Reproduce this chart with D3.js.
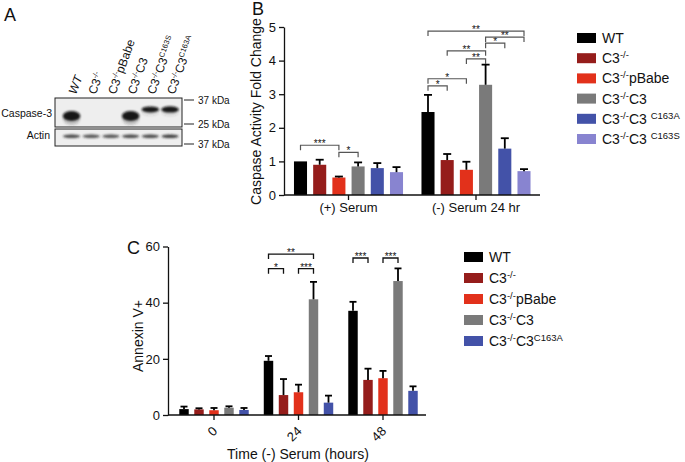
<!DOCTYPE html>
<html><head><meta charset="utf-8">
<script src="https://cdn.jsdelivr.net/npm/d3@7"></script>
<style>
body{margin:0;background:#fff}
svg{display:block}
text{font-family:"Liberation Sans",Arial,Helvetica,sans-serif;fill:#111}
</style>
</head><body>
<svg id="chart" width="685" height="462"></svg>
<script>
// ---------------- DATA ----------------
// Panel A (western blot): lanes, band apparent size (kDa) and relative intensity
const blotLanes = [[["WT",""]],[["C3","-/-"]],[["C3","-/-"],["pBabe",""]],[["C3","-/-"],["C3",""]],[["C3","-/-"],["C3","C163S"]],[["C3","-/-"],["C3","C163A"]]];
const caspaseKDa = [28.5, null, null, 28.5, 31.7, 31.7];
const caspaseIntensity = [1.0, 0, 0, 1.0, 0.4, 0.45];
const actinKDa = [42, 42, 42, 42, 42, 42];
const actinIntensity = [0.8, 0.75, 0.75, 0.8, 0.8, 0.85];
const caspaseMarkers = [37, 25];
const actinMarkers = [37];

// Panel B
const seriesB = [[["WT",""]],[["C3","-/-"]],[["C3","-/-"],["pBabe",""]],[["C3","-/-"],["C3",""]],[["C3","-/-"],["C3 ","C163A"]],[["C3","-/-"],["C3 ","C163S"]]];
const groupsB = ["(+) Serum", "(-) Serum 24 hr"];
const plusSerumMean  = [1.0, 0.90, 0.52, 0.85, 0.80, 0.68];
const plusSerumErr   = [0.0, 0.15, 0.03, 0.12, 0.15, 0.15];
const minusSerumMean = [2.47, 1.04, 0.75, 3.28, 1.38, 0.71];
const minusSerumErr  = [0.51, 0.18, 0.24, 0.60, 0.31, 0.06];
const yTicksB = [0, 1, 2, 3, 4, 5];
// [group, seriesA, seriesB, level, label]
const sigB = [
  [0, 0, 2, 1.48, "***"], [0, 2, 3, 1.27, "*"],
  [1, 0, 1, 3.25, "*"], [1, 0, 2, 3.46, "*"],
  [1, 2, 3, 4.05, "**"], [1, 1, 3, 4.29, "**"],
  [1, 3, 4, 4.52, "*"], [1, 3, 5, 4.70, "**"], [1, 0, 5, 4.88, "**"]
];

// Panel C
const seriesC = [[["WT",""]],[["C3","-/-"]],[["C3","-/-"],["pBabe",""]],[["C3","-/-"],["C3",""]],[["C3","-/-"],["C3","C163A"]]];
const groupsC = ["0", "24", "48"];
const hour0Mean  = [2.1, 2.0, 1.7, 2.6, 1.8];
const hour0Err   = [0.9, 0.4, 0.8, 0.5, 0.7];
const hour24Mean = [19.3, 7.1, 8.1, 41.2, 4.4];
const hour24Err  = [1.7, 5.7, 2.7, 6.2, 2.5];
const hour48Mean = [37.1, 12.5, 13.1, 47.7, 8.6];
const hour48Err  = [3.2, 4.0, 2.6, 4.5, 1.6];
const yTicksC = [0, 20, 40, 60];
const sigC = [
  [1, 0, 1, 52.1, "*"], [1, 2, 3, 52.1, "***"], [1, 0, 3, 57.3, "**"],
  [2, 0, 1, 55.9, "***"], [2, 2, 3, 55.9, "***"]
];

const colors = ["#000000", "#951d1b", "#e2311b", "#7a7a7a", "#4352a8", "#8884d0"];

// ---------------- HELPERS ----------------
const svg = d3.select("#chart");
svg.append("rect").attr("width", 685).attr("height", 462).attr("fill", "#fff");

function rich(textSel, parts, supSize, shift) {
  let pending = 0;
  parts.forEach(([base, sup]) => {
    if (base) { textSel.append("tspan").attr("dy", pending).text(base); pending = 0; }
    if (sup) {
      textSel.append("tspan").attr("font-size", supSize).attr("dy", -shift - pending).text(sup);
      pending = shift;
    }
  });
}

function styleAxis(g) {
  g.selectAll("path,line").attr("stroke", "#111").attr("stroke-width", 1.3);
  g.selectAll("text").attr("font-size", 13).attr("fill", "#111")
    .style("font-family", '"Liberation Sans",Arial,sans-serif');
}

// ---------------- PANEL A ----------------
const A = svg.append("g");
A.append("text").attr("x", 4).attr("y", 21).attr("font-size", 18).text("A");
const defs = svg.append("defs");
defs.append("filter").attr("id", "blur").attr("x", "-50%").attr("y", "-100%").attr("width", "200%").attr("height", "300%")
  .append("feGaussianBlur").attr("stdDeviation", 1.1);

const laneX = d3.scaleBand().domain(d3.range(blotLanes.length)).range([61.7, 179.9]);
const kda = d3.scaleLog().domain([37, 25]).range([100, 124]);
const actinOffset = 44;
const boxL = 55, boxR = 182;

A.append("rect").attr("x", boxL).attr("y", 98).attr("width", boxR - boxL).attr("height", 29)
  .attr("fill", "#eeeeee").attr("stroke", "#222").attr("stroke-width", 1);
A.append("rect").attr("x", boxL).attr("y", 129).attr("width", boxR - boxL).attr("height", 17)
  .attr("fill", "#eeeeee").attr("stroke", "#222").attr("stroke-width", 1);

const bandG = A.append("g").attr("filter", "url(#blur)");
caspaseKDa.forEach((m, i) => {
  if (!m || !caspaseIntensity[i]) return;
  const cx = laneX(i) + laneX.bandwidth() / 2, cy = kda(m), I = caspaseIntensity[i];
  bandG.append("ellipse").attr("cx", cx).attr("cy", cy + 3).attr("rx", 8.5).attr("ry", 2 + 4 * I)
    .attr("fill", "#333").attr("opacity", 0.25 * I);
  bandG.append("ellipse").attr("cx", cx).attr("cy", cy).attr("rx", 8.8).attr("ry", 1.6 + 3.4 * I)
    .attr("fill", "#111").attr("opacity", 0.95);
});
actinKDa.forEach((m, i) => {
  const cx = laneX(i) + laneX.bandwidth() / 2, cy = kda(m) + actinOffset;
  bandG.append("ellipse").attr("cx", cx).attr("cy", cy).attr("rx", 8.5).attr("ry", 1.8)
    .attr("fill", "#222").attr("opacity", actinIntensity[i]);
});

A.append("text").attr("x", 52).attr("y", 117).attr("text-anchor", "end").attr("font-size", 10.5).text("Caspase-3");
A.append("text").attr("x", 50).attr("y", 139).attr("text-anchor", "end").attr("font-size", 10.5).text("Actin");

function marker(y, m) {
  A.append("line").attr("x1", 184).attr("x2", 194).attr("y1", y).attr("y2", y).attr("stroke", "#222").attr("stroke-width", 1);
  A.append("text").attr("x", 198).attr("y", y + 3.6).attr("font-size", 10).text(m + " kDa");
}
caspaseMarkers.forEach(m => marker(kda(m), m));
actinMarkers.forEach(m => marker(kda(m) + actinOffset, m));

blotLanes.forEach((parts, i) => {
  const cx = laneX(i) + laneX.bandwidth() / 2;
  const t = A.append("text").attr("transform", `translate(${cx + 4.5},95) rotate(-70)`)
    .attr("font-size", 12).attr("font-style", i === 0 ? "italic" : "normal");
  rich(t, parts, 7.5, 4.5);
});

// ---------------- PANEL B ----------------
const B = svg.append("g");
B.append("text").attr("x", 252).attr("y", 15).attr("font-size", 18).text("B");
const yB = d3.scaleLinear().domain([0, 5]).range([195, 27]);
const xB = d3.scaleBand().domain(groupsB).range([284.75, 539.75]);
const xBi = d3.scaleBand().domain(d3.range(seriesB.length)).range([6.15, 121.35]).paddingInner(0.32).paddingOuter(0.16);
const dataB = [[plusSerumMean, plusSerumErr], [minusSerumMean, minusSerumErr]];

dataB.forEach(([means, errs], gi) => {
  const g = B.append("g").attr("transform", `translate(${xB(groupsB[gi])},0)`);
  means.forEach((v, si) => {
    const x = xBi(si), w = xBi.bandwidth(), cx = x + w / 2;
    g.append("rect").attr("x", x).attr("y", yB(v)).attr("width", w).attr("height", yB(0) - yB(v)).attr("fill", colors[si]);
    if (errs[si] > 0) {
      g.append("line").attr("x1", cx).attr("x2", cx).attr("y1", yB(v)).attr("y2", yB(v + errs[si])).attr("stroke", "#000").attr("stroke-width", 1.8);
      g.append("line").attr("x1", cx - 4).attr("x2", cx + 4).attr("y1", yB(v + errs[si])).attr("y2", yB(v + errs[si])).attr("stroke", "#000").attr("stroke-width", 1.8);
    }
  });
});

B.append("g").attr("transform", "translate(284,0)")
  .call(d3.axisLeft(yB).tickValues(yTicksB).tickFormat(d3.format("d")).tickSize(5).tickSizeOuter(0)).call(styleAxis);
const xaxB = B.append("g").attr("transform", "translate(0,195)")
  .call(d3.axisBottom(xB).tickSize(5).tickSizeOuter(0)).call(styleAxis);
xaxB.select(".domain").attr("d", "M284,0H540");

sigB.forEach(([gi, a, b, lvl, lab]) => {
  const x1 = xB(groupsB[gi]) + xBi(a) + xBi.bandwidth() / 2;
  const x2 = xB(groupsB[gi]) + xBi(b) + xBi.bandwidth() / 2;
  const y = yB(lvl);
  B.append("path").attr("d", `M${x1},${y + 5}V${y}H${x2}V${y + 5}`).attr("fill", "none").attr("stroke", "#555").attr("stroke-width", 1.2);
  B.append("text").attr("x", (x1 + x2) / 2).attr("y", y + 2).attr("text-anchor", "middle").attr("font-size", 10).attr("fill", "#333").text(lab);
});

B.append("text").attr("transform", "translate(261,111.5) rotate(-90)").attr("text-anchor", "middle").attr("font-size", 14)
  .text("Caspase Activity Fold Change");

seriesB.forEach((parts, i) => {
  const cy = 38 + i * 20.2;
  B.append("rect").attr("x", 577).attr("y", cy - 5).attr("width", 19).attr("height", 10).attr("fill", colors[i]);
  const t = B.append("text").attr("x", 602).attr("y", cy + 5).attr("font-size", 14);
  rich(t, parts, 9.5, 5);
});

// ---------------- PANEL C ----------------
const C = svg.append("g");
C.append("text").attr("x", 127).attr("y", 254).attr("font-size", 18).text("C");
const yC = d3.scaleLinear().domain([0, 60]).range([415, 246.5]);
const xC = d3.scaleBand().domain(groupsC).range([171.75, 425.25]);
const xCi = d3.scaleBand().domain(d3.range(seriesC.length)).range([4.75, 79.75]).paddingInner(0.37).paddingOuter(0.185);
const dataC = [[hour0Mean, hour0Err], [hour24Mean, hour24Err], [hour48Mean, hour48Err]];

dataC.forEach(([means, errs], gi) => {
  const g = C.append("g").attr("transform", `translate(${xC(groupsC[gi])},0)`);
  means.forEach((v, si) => {
    const x = xCi(si), w = xCi.bandwidth(), cx = x + w / 2;
    g.append("rect").attr("x", x).attr("y", yC(v)).attr("width", w).attr("height", yC(0) - yC(v)).attr("fill", colors[si]);
    g.append("line").attr("x1", cx).attr("x2", cx).attr("y1", yC(v)).attr("y2", yC(v + errs[si])).attr("stroke", "#000").attr("stroke-width", 1.8);
    g.append("line").attr("x1", cx - 3.5).attr("x2", cx + 3.5).attr("y1", yC(v + errs[si])).attr("y2", yC(v + errs[si])).attr("stroke", "#000").attr("stroke-width", 1.8);
  });
});

C.append("g").attr("transform", "translate(168,0)")
  .call(d3.axisLeft(yC).tickValues(yTicksC).tickFormat(d3.format("d")).tickSize(5).tickSizeOuter(0)).call(styleAxis);
const xaxC = C.append("g").attr("transform", "translate(0,415)")
  .call(d3.axisBottom(xC).tickSize(5).tickSizeOuter(0)).call(styleAxis);
xaxC.select(".domain").attr("d", "M168,0H426");
xaxC.selectAll(".tick text").attr("x", 0).attr("y", 0).attr("dy", 0)
  .attr("transform", "translate(4,17) rotate(-45)").style("text-anchor", "end");

sigC.forEach(([gi, a, b, lvl, lab]) => {
  const x1 = xC(groupsC[gi]) + xCi(a) + xCi.bandwidth() / 2;
  const x2 = xC(groupsC[gi]) + xCi(b) + xCi.bandwidth() / 2;
  const y = yC(lvl);
  C.append("path").attr("d", `M${x1},${y + 5}V${y}H${x2}V${y + 5}`).attr("fill", "none").attr("stroke", "#111").attr("stroke-width", 1.3);
  C.append("text").attr("x", (x1 + x2) / 2).attr("y", y + 2).attr("text-anchor", "middle").attr("font-size", 10).text(lab);
});

C.append("text").attr("transform", "translate(143,336) rotate(-90)").attr("text-anchor", "middle").attr("font-size", 14).text("Annexin V+");
C.append("text").attr("x", 298).attr("y", 459).attr("text-anchor", "middle").attr("font-size", 14).text("Time (-) Serum (hours)");

seriesC.forEach((parts, i) => {
  const cy = 257 + i * 21;
  C.append("rect").attr("x", 464).attr("y", cy - 5).attr("width", 19).attr("height", 10).attr("fill", colors[i]);
  const t = C.append("text").attr("x", 489).attr("y", cy + 5).attr("font-size", 14);
  rich(t, parts, 9.5, 5);
});
</script>
</body></html>
